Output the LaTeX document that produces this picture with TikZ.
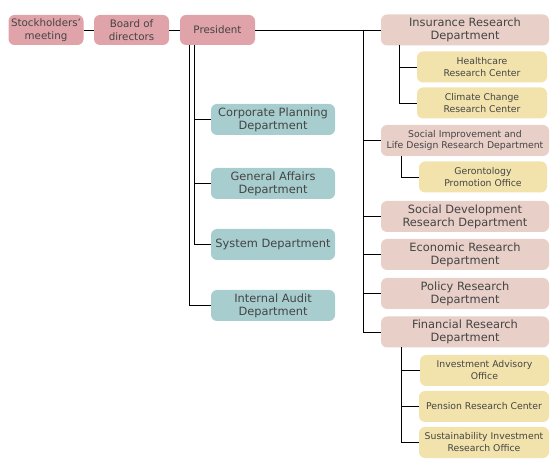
\documentclass[tikz,border=0pt]{standalone}
\usepackage{fontspec}
\setmainfont{DejaVu Sans}
\definecolor{pinkc}{HTML}{DFA3A9}
\definecolor{tealc}{HTML}{A8CDCF}
\definecolor{beigec}{HTML}{E8CFC8}
\definecolor{yellowc}{HTML}{F2E3AC}
\definecolor{txt}{HTML}{444444}
\tikzset{
  box/.style={rounded corners=6pt, inner sep=0pt, align=center, text=txt, minimum height=30pt},
  topbox/.style={box, fill=pinkc, minimum width=75pt, font=\fontsize{10.3}{12.5}\selectfont},
  staff/.style={box, fill=tealc, minimum width=124pt, minimum height=31pt, font=\fontsize{11.4}{13}\selectfont},
  dept/.style={box, fill=beigec, minimum width=168pt, minimum height=31pt, font=\fontsize{11.4}{13}\selectfont},
  sub/.style={box, fill=yellowc, minimum width=130pt, minimum height=31pt, font=\fontsize{9.3}{12}\selectfont},
  conn/.style={draw=black, line width=0.9pt}
}
\begin{document}
\begin{tikzpicture}[x=1pt,y=-1pt]
\useasboundingbox (0,0) rectangle (560,470);
% top row
\node[topbox] (sh) at (46,30) {Stockholders'\\meeting};
\node[topbox] (bd) at (131.5,30) {Board of\\directors};
\node[topbox] (pr) at (217.5,30) {President};
% staff
\node[staff] (cp) at (273,119.5) {Corporate Planning\\Department};
\node[staff] (ga) at (273,183.5) {General Affairs\\Department};
\node[staff] (sy) at (273,244.5) {System Department};
\node[staff] (ia) at (273,305.5) {Internal Audit\\Department};
% departments
\node[dept] (ins) at (465,30) {Insurance Research\\Department};
\node[sub] (hc) at (482,67) {Healthcare\\Research Center};
\node[sub] (cc) at (482,103) {Climate Change\\Research Center};
\node[dept, font=\fontsize{9.3}{11.5}\selectfont] (si) at (465,140.5) {Social Improvement and\\Life Design Research Department};
\node[sub, minimum width=128pt] (ge) at (483,177) {Gerontology\\Promotion Office};
\node[dept] (sd) at (465,216.5) {Social Development\\Research Department};
\node[dept] (ec) at (465,254.5) {Economic Research\\Department};
\node[dept] (po) at (465,293.5) {Policy Research\\Department};
\node[dept] (fi) at (465,332) {Financial Research\\Department};
\node[sub, minimum width=129pt] (iv) at (484.5,370.5) {Investment Advisory\\Office};
\node[sub] (pe) at (484,406.5) {Pension Research Center};
\node[sub] (su) at (484,442.5) {Sustainability Investment\\Research Office};
% junction coordinates
\coordinate (m) at (363,30);
\coordinate (p1) at (194,45);
\coordinate (p2) at (189,45);
\coordinate (i1) at (399,45);
\coordinate (s1) at (401,156);
\coordinate (f1) at (401,347.5);
% connectors
\draw[conn] (sh.east) -- (bd.west);
\draw[conn] (bd.east) -- (pr.west);
\draw[conn] (pr.east) -- (ins.west);
\draw[conn] (m) |- (si.west);
\draw[conn] (m) |- (sd.west);
\draw[conn] (m) |- (ec.west);
\draw[conn] (m) |- (po.west);
\draw[conn] (m) |- (fi.west);
\draw[conn] (p1) |- (cp.west);
\draw[conn] (p1) |- (ga.west);
\draw[conn] (p1) |- (sy.west);
\draw[conn] (p2) |- (ia.west);
\draw[conn] (i1) |- (hc.west);
\draw[conn] (i1) |- (cc.west);
\draw[conn] (s1) |- (ge.west);
\draw[conn] (f1) |- (iv.west);
\draw[conn] (f1) |- (pe.west);
\draw[conn] (f1) |- (su.west);
\end{tikzpicture}
\end{document}
